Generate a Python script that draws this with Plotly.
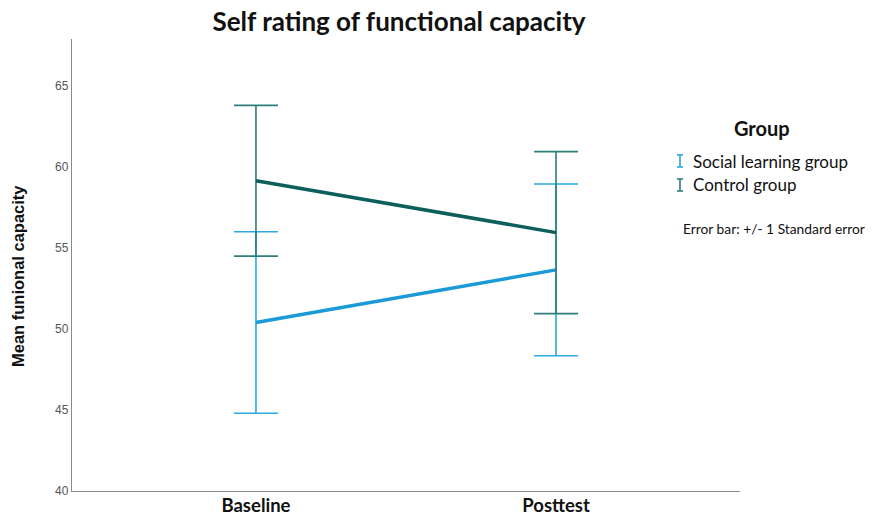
import plotly.graph_objects as go

categories = ["Baseline", "Posttest"]
social_mean = [50.4, 53.65]
social_se = [5.6, 5.3]
control_mean = [59.15, 55.95]
control_se = [4.65, 5.0]
y_ticks = [40, 45, 50, 55, 60, 65]

social_line = "#1B9AD8"
social_err = "#2AA9DF"
control_line = "#0C5F5A"
control_err = "#2E7E79"

fig = go.Figure()
fig.add_trace(go.Scatter(
    x=categories, y=social_mean, mode="lines", name="Social learning group",
    line=dict(color=social_line, width=3.5),
    error_y=dict(type="data", array=social_se, visible=True, color=social_err, thickness=1.6, width=22),
    showlegend=False))
fig.add_trace(go.Scatter(
    x=categories, y=control_mean, mode="lines", name="Control group",
    line=dict(color=control_line, width=3.5),
    error_y=dict(type="data", array=control_se, visible=True, color=control_err, thickness=1.6, width=22),
    showlegend=False))

W, H = 874, 516
L, R, T, B = 72, 134, 39, 25

def px(x):
    return (x - L) / (W - L - R)

def py(y):
    return 1 - (y - T) / (H - T - B)

shapes = []
for yc, col in [(161, social_err), (185, control_err)]:
    shapes.append(dict(type="line", xref="paper", yref="paper", x0=px(680), x1=px(680), y0=py(yc - 6), y1=py(yc + 6), line=dict(color=col, width=1.6)))
    for yy in (yc - 6, yc + 6):
        shapes.append(dict(type="line", xref="paper", yref="paper", x0=px(677), x1=px(683), y0=py(yy), y1=py(yy), line=dict(color=col, width=1.6)))

annotations = [
    dict(text="Group", xref="paper", yref="paper", x=px(762), y=py(128), showarrow=False,
         xanchor="center", yanchor="middle", font=dict(family="Lato", size=20, color="#111", weight="bold")),
    dict(text="Social learning group", xref="paper", yref="paper", x=px(691), y=py(161), showarrow=False,
         xanchor="left", yanchor="middle", font=dict(family="Lato", size=17, color="#111")),
    dict(text="Control group", xref="paper", yref="paper", x=px(691), y=py(185), showarrow=False,
         xanchor="left", yanchor="middle", font=dict(family="Lato", size=17, color="#111")),
    dict(text="Error bar: +/- 1 Standard error", xref="paper", yref="paper", x=px(681), y=py(228), showarrow=False,
         xanchor="left", yanchor="middle", font=dict(family="Lato", size=13.8, color="#111")),
    dict(text="Mean funional capacity", xref="paper", yref="paper", x=px(18), y=py(276), showarrow=False,
         textangle=-90, xanchor="center", yanchor="middle",
         font=dict(family="Liberation Sans", size=16.5, color="#111", weight="bold")),
]

fig.update_layout(
    width=W, height=H,
    margin=dict(l=L, r=R, t=T, b=B, pad=0, autoexpand=False),
    paper_bgcolor="white", plot_bgcolor="white",
    title=dict(text="Self rating of functional capacity", x=399 / W, xanchor="center", y=1 - 22 / H, yanchor="middle",
               font=dict(family="Lato", size=26, color="#111", weight="bold")),
    xaxis=dict(type="category", range=[-0.613, 1.613], showline=True, linecolor="#8a8a8a", linewidth=1.3,
               showgrid=False, zeroline=False, ticks="", automargin=False, ticklabelstandoff=-2,
               tickfont=dict(family="Lato", size=18.5, color="#111", weight="bold")),
    yaxis=dict(range=[40, 67.9], tickvals=y_ticks, showline=True, linecolor="#8a8a8a", linewidth=1.3,
               showgrid=False, zeroline=False, ticks="", automargin=False,
               tickfont=dict(family="Liberation Sans", size=12, color="#555")),
    shapes=shapes,
    annotations=annotations,
)

fig.write_html("out.html", config={"displayModeBar": False},
               post_script="document.body.style.margin='0';")
